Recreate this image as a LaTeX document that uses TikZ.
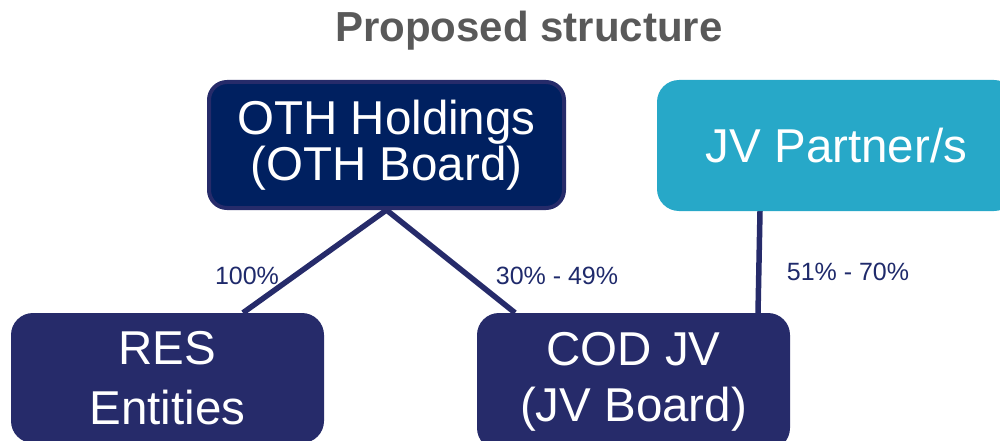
\documentclass[tikz,border=0pt]{standalone}
\usepackage{fontspec}
\setmainfont{Liberation Sans}
\usetikzlibrary{backgrounds}
\definecolor{navy}{HTML}{002060}
\definecolor{navyb}{HTML}{262B6A}
\definecolor{teal}{HTML}{27A8C8}
\definecolor{labcol}{HTML}{1F2A6B}
\definecolor{titlegray}{HTML}{595959}
\tikzset{
  bigtext/.style={font=\fontsize{47.5}{46}\selectfont, text=white, align=center, inner sep=0pt},
  topbox/.style={bigtext, rounded corners=18pt, fill=navy, draw=navyb, line width=4pt, minimum width=355pt, minimum height=126pt},
  jvbox/.style={bigtext, rounded corners=22pt, fill=teal, minimum width=359pt, minimum height=131pt},
  lowbox/.style={bigtext, rounded corners=22pt, fill=navyb, minimum width=313pt},
  link/.style={draw=navyb, line width=5.5pt},
  pct/.style={font=\fontsize{25}{30}\selectfont, text=labcol, anchor=base, inner sep=0pt},
}
\begin{document}
\begin{tikzpicture}[x=1pt,y=-1pt]
\clip (0,0) rectangle (1000,441);
\node[font=\bfseries\fontsize{42}{50}\selectfont, text=titlegray, anchor=base, inner sep=0pt] (title) at (529,42) {Proposed structure};
\node[topbox] (oth) at (386.5,145) {OTH Holdings\\(OTH Board)};
\node[jvbox] (jv) at (836.5,145.5) {JV Partner/s};
\node[lowbox, font=\fontsize{47.5}{60}\selectfont, minimum height=130pt] (res) at (167.5,378) {RES\\Entities};
\node[lowbox, font=\fontsize{47.5}{56}\selectfont, minimum height=137pt] (cod) at (633.5,381.5) {COD JV\\(JV Board)};
\begin{scope}[on background layer]
\draw[link] (oth.south) -- ([xshift=75.5pt]res.north);
\draw[link] (oth.south) -- ([xshift=-118.5pt]cod.north);
\draw[link] ([xshift=-76.5pt]jv.south) -- ([xshift=124.5pt]cod.north);
\end{scope}
\node[pct] (p1) at (247,284) {100\%};
\node[pct] (p2) at (557,284) {30\% - 49\%};
\node[pct] (p3) at (848,280) {51\% - 70\%};
\end{tikzpicture}
\end{document}
